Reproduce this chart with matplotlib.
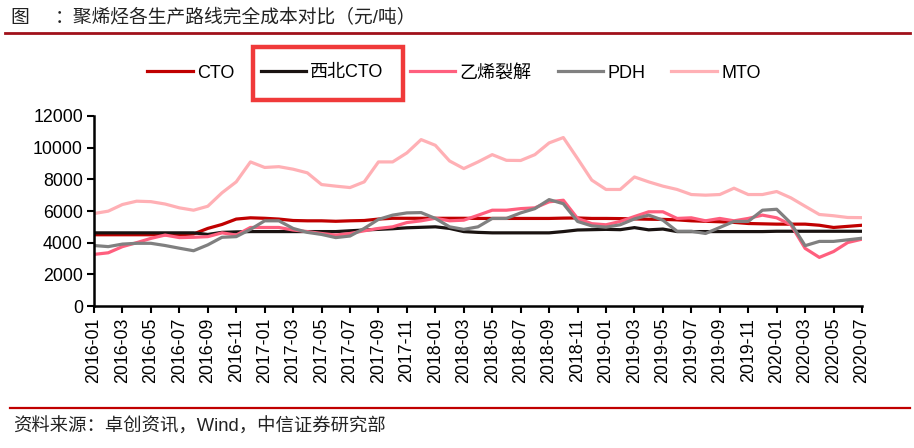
import matplotlib
matplotlib.use('Agg')
import matplotlib.pyplot as plt
from matplotlib.lines import Line2D
from matplotlib.patches import Rectangle

plt.rcParams['font.family'] = ['Liberation Sans', 'Noto Sans CJK SC']

months = ['2016-01', '2016-02', '2016-03', '2016-04', '2016-05', '2016-06', '2016-07', '2016-08',
          '2016-09', '2016-10', '2016-11', '2016-12', '2017-01', '2017-02', '2017-03', '2017-04',
          '2017-05', '2017-06', '2017-07', '2017-08', '2017-09', '2017-10', '2017-11', '2017-12',
          '2018-01', '2018-02', '2018-03', '2018-04', '2018-05', '2018-06', '2018-07', '2018-08',
          '2018-09', '2018-10', '2018-11', '2018-12', '2019-01', '2019-02', '2019-03', '2019-04',
          '2019-05', '2019-06', '2019-07', '2019-08', '2019-09', '2019-10', '2019-11', '2019-12',
          '2020-01', '2020-02', '2020-03', '2020-04', '2020-05', '2020-06', '2020-07']

cto = [4500, 4500, 4500, 4500, 4500, 4500, 4500, 4550, 4900, 5150, 5490, 5570, 5540, 5490,
       5400, 5380, 5380, 5350, 5380, 5400, 5490, 5540, 5540, 5540, 5540, 5540, 5540, 5530,
       5530, 5530, 5530, 5530, 5530, 5550, 5560, 5530, 5530, 5520, 5500, 5480, 5470, 5440,
       5380, 5350, 5320, 5280, 5210, 5190, 5170, 5170, 5170, 5100, 4960, 5030, 5100]

nw_cto = [4620, 4620, 4620, 4620, 4620, 4620, 4620, 4620, 4520, 4650, 4680, 4700, 4700, 4700,
          4700, 4700, 4700, 4700, 4750, 4800, 4840, 4880, 4940, 4970, 5000, 4900, 4700, 4650,
          4620, 4620, 4620, 4620, 4620, 4700, 4800, 4820, 4840, 4820, 4950, 4810, 4860, 4700,
          4700, 4700, 4700, 4700, 4700, 4700, 4720, 4720, 4720, 4720, 4720, 4720, 4720]

ethylene = [3260, 3360, 3750, 4000, 4270, 4480, 4320, 4340, 4380, 4620, 4480, 4960, 4960, 4960,
            4800, 4700, 4580, 4480, 4580, 4750, 4900, 5000, 5270, 5380, 5540, 5380, 5420, 5730,
            6050, 6050, 6150, 6200, 6580, 6680, 5530, 5200, 5130, 5340, 5650, 5950, 5950, 5530,
            5570, 5380, 5530, 5380, 5530, 5740, 5570, 5130, 3640, 3070, 3440, 4010, 4220]

pdh = [3820, 3750, 3910, 3960, 3960, 3820, 3650, 3490, 3860, 4340, 4380, 4840, 5380, 5380,
       4900, 4650, 4520, 4320, 4420, 4900, 5470, 5740, 5880, 5900, 5530, 5000, 4840, 5000,
       5530, 5530, 5880, 6150, 6720, 6460, 5340, 5060, 4980, 5130, 5500, 5740, 5420, 4720,
       4720, 4580, 4960, 5340, 5340, 6050, 6110, 5230, 3810, 4080, 4080, 4180, 4280]

mto = [5840, 5990, 6410, 6620, 6590, 6440, 6200, 6050, 6300, 7150, 7840, 9100, 8750, 8800,
       8640, 8410, 7670, 7570, 7480, 7840, 9100, 9100, 9670, 10510, 10150, 9160, 8680, 9100,
       9560, 9200, 9190, 9560, 10300, 10640, 9310, 7950, 7360, 7360, 8150, 7840, 7570, 7360,
       7040, 7000, 7040, 7440, 7040, 7040, 7230, 6830, 6300, 5780, 5700, 5590, 5580]

series = [('CTO', cto, '#C00000'),
          ('西北CTO', nw_cto, '#1A1311'),
          ('乙烯裂解', ethylene, '#FF5F7E'),
          ('PDH', pdh, '#808080'),
          ('MTO', mto, '#FFB0B5')]

fig = plt.figure(figsize=(9.14, 4.48), dpi=100)
ax = fig.add_axes([94 / 914, 1 - 306 / 448, (862 - 94) / 914, (306 - 116) / 448])

x = list(range(len(months)))
handles = []
for name, vals, color in series:
    ax.plot(x, vals, color=color, lw=2.3, solid_joinstyle='round')
    handles.append(Line2D([], [], color=color, lw=2.3))

ax.set_xlim(0, len(months) - 1)
ax.set_ylim(0, 12000)
ax.set_yticks(range(0, 12001, 2000))
ax.set_xticks(x[::2])
ax.set_xticklabels(months[::2], rotation=90)
ax.tick_params(axis='both', labelsize=12.8, direction='out', length=5, width=1.5, colors='black')
ax.tick_params(axis='y', pad=3)
for s in ['top', 'right']:
    ax.spines[s].set_visible(False)
for s in ['left', 'bottom']:
    ax.spines[s].set_linewidth(1.8)

leg = fig.legend(handles, [s[0] for s in series], loc='center', ncol=5,
                 bbox_to_anchor=(454 / 914, 1 - 73 / 448), frameon=False,
                 fontsize=13, handlelength=2.5, handletextpad=0.25, columnspacing=1.45)

# red box round the 西北CTO entry
fig.patches.append(Rectangle((253 / 914, 1 - 100 / 448), 150 / 914, 53 / 448,
                             transform=fig.transFigure, fill=False,
                             edgecolor='#F03A3A', lw=3.2))

# title and rules
fig.text(10 / 914, 1 - 18 / 448, '图', fontsize=13.5, color='#222222', va='center')
fig.text(55 / 914, 1 - 18 / 448, '：聚烯烃各生产路线完全成本对比（元/吨）', fontsize=13.5,
         color='#222222', va='center')
fig.add_artist(Line2D([5 / 914, 910 / 914], [1 - 33 / 448, 1 - 33 / 448],
                      color='#A0101A', lw=2, transform=fig.transFigure))
fig.add_artist(Line2D([10 / 914, 910 / 914], [1 - 408 / 448, 1 - 408 / 448],
                      color='#C00000', lw=1.6, transform=fig.transFigure))
fig.text(13 / 914, 1 - 427 / 448, '资料来源：卓创资讯，Wind，中信证券研究部', fontsize=13.2,
         color='#222222', va='center')

fig.savefig('out.png', dpi=100)
